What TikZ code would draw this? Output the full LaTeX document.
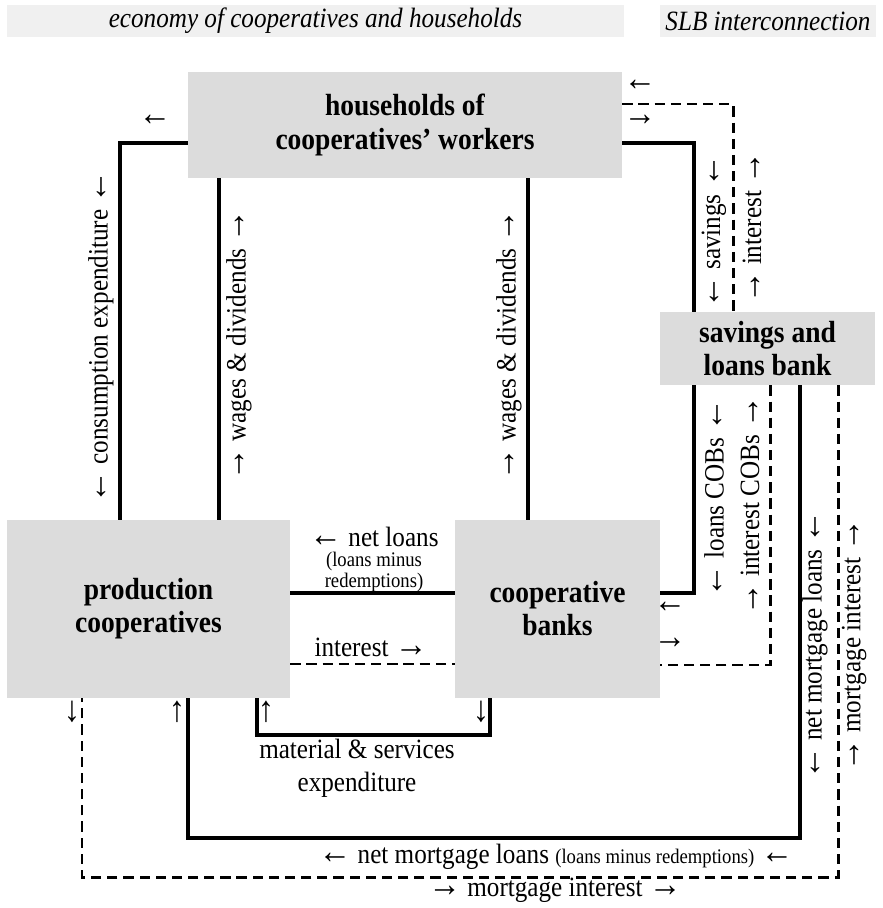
\documentclass[tikz,border=0pt]{standalone}
\usepackage{fontspec}
\usepackage{graphicx}
\setmainfont{Liberation Serif}[FakeStretch=0.9]
\definecolor{boxgrey}{HTML}{DCDCDC}
\definecolor{bannergrey}{HTML}{F0F0F0}
\newcommand\arl{\scalebox{1.3}{←}}
\newcommand\arr{\scalebox{1.3}{→}}
\newcommand\aru{\scalebox{1.3}{↑}}
\newcommand\ard{\scalebox{1.3}{↓}}
\tikzset{
    sector/.style={fill=boxgrey, inner sep=0pt, align=center, font=\fontsize{17.4}{18.8}\selectfont\bfseries},
    banner/.style={fill=bannergrey, inner sep=0pt, font=\fontsize{15.9}{17}\selectfont\itshape},
    money/.style={line width=2.4pt},
    interestflow/.style={line width=1.7pt, dash pattern=on 5.8pt off 3.4pt},
    lbl/.style={inner sep=0pt, align=center, font=\fontsize{15.9}{18.8}\selectfont},
    vlbl/.style={lbl, rotate=90},
    smalllbl/.style={inner sep=0pt, align=center, font=\fontsize{11.8}{11.5}\selectfont}
}
\begin{document}
\begin{tikzpicture}[x=0.02cm, y=-0.02cm]
    \useasboundingbox (0,0) rectangle (882,908);

    % Draw headers
    \node[banner, minimum width=12.34cm, minimum height=0.64cm] (econ) at (315.5,21) {economy of cooperatives and households};
    \node[banner, minimum width=4.32cm, minimum height=0.64cm] (slbhead) at (768,21) {SLB interconnection};

    % Draw sectors
    \node[sector, minimum width=8.68cm, minimum height=2.12cm] (hh) at (405,125) {households of\\cooperatives' workers};
    \node[sector, minimum width=4.3cm, minimum height=1.46cm] (slb) at (767.5,348.5) {savings and\\loans bank};
    \node[sector, minimum width=5.66cm, minimum height=3.56cm] (pc) at (148.5,609) {production\\cooperatives};
    \node[sector, minimum width=4.1cm, minimum height=3.56cm] (cb) at (557.5,609) {cooperative\\banks};

    % Draw flows
    \draw[money] (hh.west |- 0,143) -| (pc.north -| 120,0); % consumption
    \draw[money] (hh.south -| 219,0) -- (pc.north -| 219,0); % wages left
    \draw[money] (hh.south -| 528,0) -- (cb.north -| 528,0); % wages right
    \draw[money] (hh.east |- 0,143) -| (slb.north -| 694,0); % savings
    \draw[interestflow] (hh.east |- 0,104) -| (slb.north -| 733,0); % interest to households
    \draw[money] (slb.south -| 694,0) |- (cb.east |- 0,593); % loans COBs
    \draw[interestflow] (slb.south -| 770,0) |- (cb.east |- 0,665); % interest COBs
    \draw[money] (slb.south -| 800,0) -- (800,838) -| (pc.south -| 188,0); % net mortgage loans
    \draw[interestflow] (slb.south -| 838,0) -- (838,877) -| (pc.south -| 82,0); % mortgage interest
    \draw[money] (pc.south -| 257,0) -- (257,735) -| (cb.south -| 490,0); % material
    \draw[money] (cb.west |- 0,593) -- (pc.east |- 0,593); % net loans
    \draw[interestflow] (pc.east |- 0,664) -- (cb.west |- 0,664); % interest

    % Labels along flows
    \node[vlbl] (consl) at (101,337) {\arl{} consumption expenditure \arl};
    \node[vlbl] (wagesl) at (239,345) {\arr{} wages \& dividends \arr};
    \node[vlbl] (wagesr) at (509,345) {\arr{} wages \& dividends \arr};
    \node[vlbl] (savl) at (714,232) {\arl{} savings \arl};
    \node[vlbl] (intl) at (752,228) {\arr{} interest \arr};
    \node[vlbl] (cobl) at (714,498) {\arl{} loans COBs \arl};
    \node[vlbl] (icobl) at (750,506) {\arr{} interest COBs \arr};
    \node[vlbl] (nml) at (815,645) {\arl{} net mortgage loans \arl};
    \node[vlbl] (mil) at (854,645) {\arr{} mortgage interest \arr};
    \node[lbl] (netl) at (374,537) {\arl{} net loans};
    \node[smalllbl] (netsub) at (374,572) {(loans minus\\redemptions)};
    \node[lbl] (intpc) at (371,647) {interest \arr};
    \node[lbl] (matl) at (357,768) {material \& services\\expenditure};
    \node[lbl] (nmbot) at (556,857) {\arl{} net mortgage loans {\fontsize{11.8}{12}\selectfont(loans minus redemptions)} \arl};
    \node[lbl] (mibot) at (555,890) {\arr{} mortgage interest \arr};

    % Small direction marks
    \node[lbl] (a1) at (155,120) {\arl};
    \node[lbl] (a2) at (640,85) {\arl};
    \node[lbl] (a3) at (640,120) {\arr};
    \node[lbl] (a4) at (670,607) {\arl};
    \node[lbl] (a5) at (670,643) {\arr};
    \node[lbl] (a6) at (72,712) {\ard};
    \node[lbl] (a7) at (177,712) {\aru};
    \node[lbl] (a8) at (266,712) {\aru};
    \node[lbl] (a9) at (481,712) {\ard};
\end{tikzpicture}
\end{document}
